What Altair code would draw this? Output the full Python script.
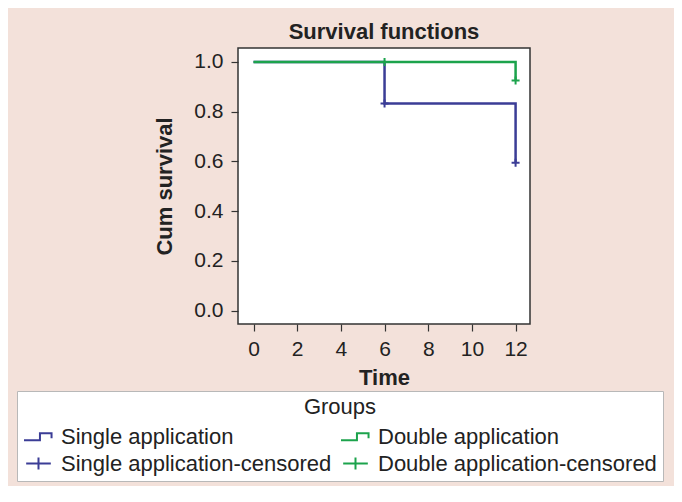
import altair as alt
import pandas as pd

# ---- data ----
groups = ["Single application", "Double application",
          "Single application-censored", "Double application-censored"]
group_colors = ["#3b3d96", "#1ca34c", "#3b3d96", "#1ca34c"]

single_time = [0, 6, 6, 12, 12]
single_surv = [1.0, 1.0, 0.833, 0.833, 0.595]
double_time = [0, 12, 12]
double_surv = [1.0, 1.0, 0.925]

single_cens_time = [6, 12]
single_cens_surv = [0.833, 0.595]
double_cens_time = [6, 12]
double_cens_surv = [1.0, 0.925]

x_ticks = [0, 2, 4, 6, 8, 10, 12]
y_ticks = [0.0, 0.2, 0.4, 0.6, 0.8, 1.0]

# ---- tables ----
single_df = pd.DataFrame({"time": single_time, "surv": single_surv,
                          "order": list(range(len(single_time))),
                          "group": groups[0]})
double_df = pd.DataFrame({"time": double_time, "surv": double_surv,
                          "order": list(range(len(double_time))),
                          "group": groups[1]})
cens_df = pd.DataFrame({
    "time": single_cens_time + double_cens_time,
    "surv": single_cens_surv + double_cens_surv,
    "group": [groups[2]] * len(single_cens_time) + [groups[3]] * len(double_cens_time),
})

STEP = "M-1,0.24H0.1V-0.24H0.9V0.1"
PLUS_LEG = "M-0.85,0H0.85M0,-0.42V0.42"
PLUS = "M-1,0H1M0,-1V1"

FONT = "Liberation Sans"

x_enc = alt.X("time:Q", title="Time",
              scale=alt.Scale(domain=[-0.71, 12.66], nice=False, zero=False),
              axis=alt.Axis(values=x_ticks, format="d", grid=False, domain=False,
                            tickSize=7, tickColor="#333333", tickWidth=1.2,
                            labelPadding=7, titlePadding=8))
y_enc = alt.Y("surv:Q", title="Cum survival",
              scale=alt.Scale(domain=[-0.0535, 1.056], nice=False, zero=False),
              axis=alt.Axis(values=y_ticks, format=".1f", grid=False, domain=False,
                            tickSize=7, tickColor="#333333", tickWidth=1.2,
                            labelPadding=8, titlePadding=17))

color_scale = alt.Scale(domain=groups, range=group_colors)
shape_scale = alt.Scale(domain=groups, range=[STEP, STEP, PLUS_LEG, PLUS_LEG])

legend = alt.Legend(
    title="Groups", orient="none", legendX=-221, legendY=343,
    columns=2, direction="horizontal",
    fillColor="white", strokeColor="#b8b8b8", padding=6,
    titleAnchor="middle", titleFontWeight="normal", titleFontSize=22,
    titleFont=FONT, titleColor="#222222", titlePadding=2,
    labelFont=FONT, labelFontSize=22, labelColor="#222222", labelLimit=400,
    labelOffset=7, symbolSize=841, symbolStrokeWidth=2,
    symbolFillColor="transparent", columnPadding=5, rowPadding=0,
)

line_single = alt.Chart(single_df).mark_line(strokeWidth=2.5).encode(
    x=x_enc, y=y_enc, order="order:Q",
    color=alt.Color("group:N", scale=color_scale, legend=legend),
)
line_double = alt.Chart(double_df).mark_line(strokeWidth=2.5).encode(
    x=x_enc, y=y_enc, order="order:Q",
    color=alt.Color("group:N", scale=color_scale, legend=legend),
)
cens = alt.Chart(cens_df).mark_point(shape=PLUS, size=64, strokeWidth=2,
                                     filled=False, opacity=1).encode(
    x=x_enc, y=y_enc,
    color=alt.Color("group:N", scale=color_scale, legend=legend),
)
legend_layer = alt.Chart(cens_df).transform_filter("false").mark_point(
    filled=False, strokeWidth=2, opacity=1).encode(
    x=x_enc, y=y_enc,
    color=alt.Color("group:N", scale=color_scale, legend=legend),
    shape=alt.Shape("group:N", scale=shape_scale, legend=legend),
)

chart = alt.layer(line_single, line_double, cens, legend_layer).properties(
    width=292, height=276,
    title=alt.Title("Survival functions", fontSize=22, font=FONT,
                    fontWeight="bold", color="#222222", offset=4),
    autosize=alt.AutoSizeParams(type="none"),
    padding={"left": 230, "top": 40, "right": 144, "bottom": 162},
    background="#f3e1da",
).configure_view(
    fill="white", stroke="#333333", strokeWidth=1.5,
).configure_axis(
    labelFont=FONT, labelFontSize=21, labelColor="#222222",
    titleFont=FONT, titleFontSize=22, titleFontWeight="bold", titleColor="#222222",
)

chart.save("out.html", embed_options={"renderer": "svg", "actions": False})
